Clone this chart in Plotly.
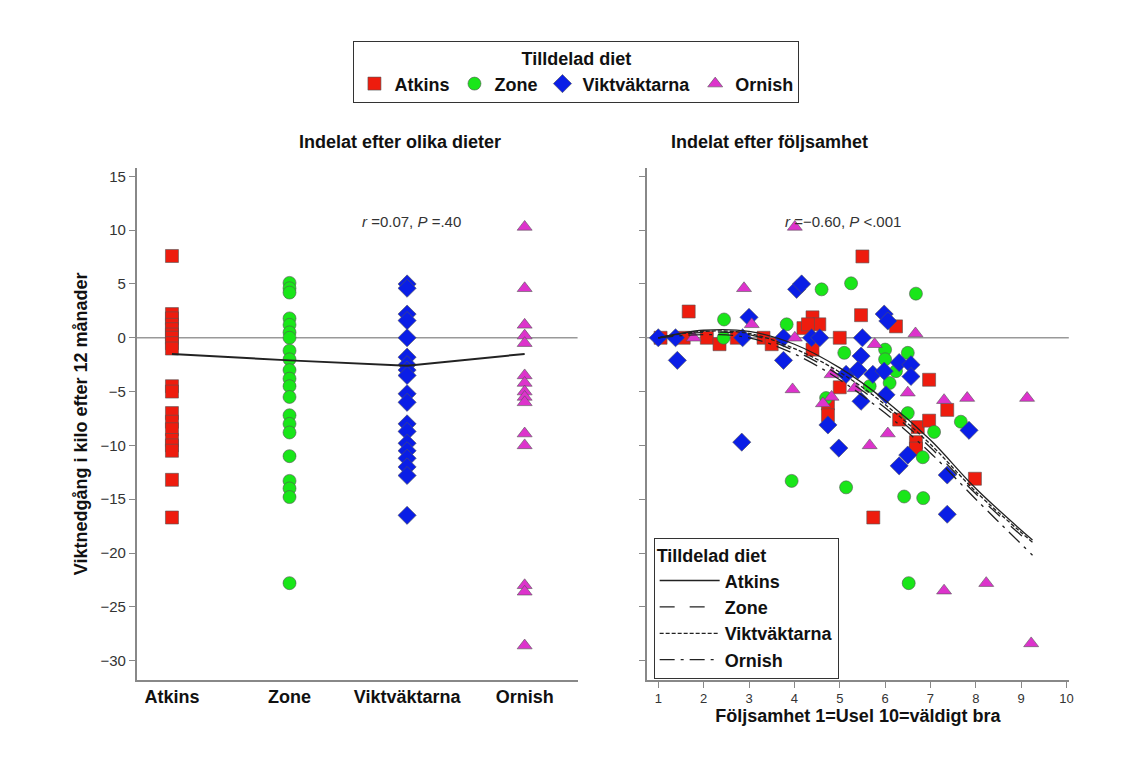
import plotly.graph_objects as go

# --- data ---
diets = ["Atkins", "Zone", "Viktväktarna", "Ornish"]
colors = ["#ee1c0e", "#19e619", "#0a1ee6", "#dd33cc"]
symbols = ["square", "circle", "diamond", "triangle-up"]

# left panel: weight change per diet
atkins_y = [7.6, 2.2, 1.8, 1.2, 0.8, 0.3, 0, -0.5, -1, -4.5, -5, -7, -7.8, -8.5, -9.5, -10, -10.5, -13.2, -16.7]
zone_y = [5.1, 4.6, 4.2, 1.8, 1.2, 0.5, 0, -1.2, -2, -3, -3.8, -4.5, -5.5, -7.2, -8, -8.8, -11, -13.3, -14, -14.8, -22.8]
vikt_y = [5, 4.6, 2.2, 1.6, 0, -1.8, -2.5, -3, -3.5, -5.2, -6, -8, -8.7, -9.8, -10.5, -11.2, -12, -12.8, -16.5]
ornish_y = [10.3, 4.6, 1.2, 0.2, -0.5, -3.5, -4.2, -5, -5.5, -6, -8.9, -10, -23, -23.6, -28.6]
group_means = [-1.5, -2.1, -2.6, -1.5]

# right panel: adherence vs weight change
atkins_adh = [1.67, 1.05, 1.56, 2.07, 2.35, 2.73, 3.32, 3.5, 5.5, 5.47, 6.24, 4.2, 4.4, 4.55, 4.3, 4.4,
              5.0, 5.0, 4.74, 4.74, 6.97, 7.37, 6.31, 6.72, 6.97, 6.68, 6.68, 7.98, 5.74]
atkins_chg = [2.44, 0, 0, 0, -0.6, 0, 0, -0.6, 7.56, 2.1, 1.06, 0.9, 1.9, 1.25, 1.25, -1.1,
              0, -4.6, -6.1, -7.2, -3.9, -6.7, -7.6, -8.3, -7.7, -9.7, -10.3, -13.1, -16.7]
zone_adh = [2.45, 2.44, 3.83, 4.6, 5.25, 6.68, 5.1, 6.0, 6.5, 6.0, 6.24, 6.1, 5.66, 4.7, 6.5, 7.08,
            7.67, 6.83, 3.94, 5.14, 6.42, 6.84, 6.52]
zone_chg = [1.7, 0, 1.25, 4.5, 5.06, 4.1, -1.4, -1.1, -1.4, -2.0, -3.1, -4.2, -4.5, -5.6, -7.0, -8.75,
            -7.8, -11.1, -13.3, -13.9, -14.75, -14.9, -22.8]
vikt_adh = [1.0, 1.38, 1.42, 2.86, 3.0, 3.76, 3.76, 2.84, 4.05, 4.16, 4.38, 4.56, 5.5, 5.98, 6.06, 5.47,
            5.14, 5.4, 5.73, 5.98, 6.31, 6.57, 6.57, 6.02, 5.47, 4.74, 4.98, 6.5, 6.31, 7.37, 7.85, 7.37]
vikt_chg = [0, 0, -2.1, 0, 1.9, 0, -2.1, -9.7, 4.5, 5.0, 0, 0, 0, 2.2, 1.56, -1.7,
            -3.4, -3.0, -3.4, -3.1, -2.3, -2.5, -3.6, -5.3, -5.9, -8.1, -10.25, -10.9, -11.9, -12.75, -8.6, -16.4]
ornish_adh = [4.01, 2.89, 3.06, 1.78, 4.01, 6.67, 5.77, 3.96, 4.82, 4.82, 4.63, 5.33, 6.5, 7.3, 7.81,
              9.13, 6.06, 5.66, 7.3, 8.23, 9.22]
ornish_chg = [10.3, 4.6, 1.25, 0, 0, 0.4, -0.6, -4.8, -3.4, -5.5, -6.1, -4.7, -5.1, -5.8, -5.6,
              -5.6, -8.9, -10.0, -23.5, -22.8, -28.4]

# fitted curves (read at a few adherence values)
fit_x = [1, 2, 3, 4, 5, 6, 7, 8, 9.25]
fit_atkins = [0, 0.7, 0.6, -0.6, -2.8, -5.8, -9.5, -14, -18.8]
fit_zone = [0, 0.5, 0.3, -1.2, -3.5, -6.5, -10.2, -14.5, -19.3]
fit_vikt = [0, 0.6, 0.4, -1.0, -3.2, -6.2, -9.9, -14.3, -19.0]
fit_ornish = [0, 0.3, 0.0, -1.5, -3.9, -7.0, -10.7, -15.0, -20.2]

left_ys = [atkins_y, zone_y, vikt_y, ornish_y]
right_xs = [atkins_adh, zone_adh, vikt_adh, ornish_adh]
right_ys = [atkins_chg, zone_chg, vikt_chg, ornish_chg]
fits = [fit_atkins, fit_zone, fit_vikt, fit_ornish]
dashes = ["solid", "longdash", "4px,2px", "longdashdot"]
sizes = [13, 13, 14, 13]

fig = go.Figure()

for i, d in enumerate(diets):
    marker = dict(color=colors[i], symbol=symbols[i], size=sizes[i],
                  line=dict(color="#555555", width=0.6))
    fig.add_trace(go.Scatter(x=[d] * len(left_ys[i]), y=left_ys[i], mode="markers",
                             marker=marker, name="<b>" + d + "</b>", legend="legend",
                             xaxis="x", yaxis="y"))
    fig.add_trace(go.Scatter(x=right_xs[i], y=right_ys[i], mode="markers",
                             marker=marker, showlegend=False,
                             xaxis="x2", yaxis="y2"))

fig.add_trace(go.Scatter(x=diets, y=group_means, mode="lines",
                         line=dict(color="#222222", width=2),
                         showlegend=False, xaxis="x", yaxis="y"))

for i, d in enumerate(diets):
    fig.add_trace(go.Scatter(x=fit_x, y=fits[i], mode="lines", name="<b>" + d + "</b>",
                             line=dict(color="#222222", width=1.3, dash=dashes[i], shape="spline"),
                             legend="legend2", xaxis="x2", yaxis="y2"))

yr = [-31.8, 15.8]
axis_common = dict(showline=True, linecolor="#888888", linewidth=1.5, showgrid=False,
                   zeroline=False, ticks="outside", tickcolor="#888888", ticklen=6)

fig.update_layout(
    width=1124, height=768,
    paper_bgcolor="white", plot_bgcolor="white",
    margin=dict(l=0, r=0, t=0, b=0),
    font=dict(family="Liberation Sans, Arial, sans-serif", color="#111111", size=14),
    xaxis=dict(domain=[0.115, 0.509], type="category", range=[-0.3, 3.45],
               showline=True, linecolor="#888888", linewidth=1.5, showgrid=False,
               ticks="", tickfont=dict(size=18, color="#111111"),
               tickprefix="<b>", ticksuffix="</b>", anchor="y"),
    yaxis=dict(domain=[0.125, 0.792], range=yr, tickvals=list(range(-30, 16, 5)),
               tickfont=dict(size=15, color="#333333"),
               title=dict(text="<b>Viktnedgång i kilo efter 12 månader</b>",
                          font=dict(size=18), standoff=8),
               anchor="x", **axis_common),
    xaxis2=dict(domain=[0.571, 0.948], range=[0.75, 10.05], tickvals=list(range(1, 11)),
                tickfont=dict(size=13, color="#333333"),
                title=dict(text="<b>Följsamhet 1=Usel 10=väldigt bra</b>",
                           font=dict(size=18), standoff=2),
                anchor="y2", **axis_common),
    yaxis2=dict(domain=[0.125, 0.792], range=yr, tickvals=list(range(-30, 16, 5)),
                showticklabels=False, anchor="x2", **axis_common),
    legend=dict(orientation="h", x=0.508, xanchor="center", y=0.957, yanchor="top",
                bgcolor="white", bordercolor="#333333", borderwidth=1,
                title=dict(text="<b>Tilldelad diet</b>", side="top center", font=dict(size=18)),
                font=dict(size=18), itemwidth=30, entrywidth=0,
                itemclick=False),
    legend2=dict(x=0.577, xanchor="left", y=0.31, yanchor="top",
                 bgcolor="white", bordercolor="#333333", borderwidth=1,
                 title=dict(text="<b>Tilldelad diet</b>", font=dict(size=18)),
                 font=dict(size=18), tracegroupgap=0, itemwidth=60),
    shapes=[
        dict(type="line", xref="x domain", yref="y", x0=0, x1=1, y0=0, y1=0,
             line=dict(color="#999999", width=1.5), layer="below"),
        dict(type="line", xref="x2 domain", yref="y2", x0=0, x1=1, y0=0, y1=0,
             line=dict(color="#999999", width=1.5), layer="below"),
    ],
    annotations=[
        dict(text="<b>Indelat efter olika dieter</b>", x=0.35, y=0.81, xref="paper", yref="paper",
             showarrow=False, font=dict(size=18), yanchor="bottom"),
        dict(text="<b>Indelat efter följsamhet</b>", x=0.77, y=0.81, xref="paper", yref="paper",
             showarrow=False, font=dict(size=18), yanchor="bottom"),
        dict(text="<i>r</i> =0.07, <i>P</i> =.40", x=0.361, y=0.736, xref="paper", yref="paper",
             showarrow=False, font=dict(size=15, color="#333333")),
        dict(text="<i>r</i> =−0.60, <i>P</i> <.001", x=0.8, y=0.736, xref="paper", yref="paper",
             showarrow=False, font=dict(size=15, color="#333333")),
    ],
)

fig.write_html("out.html")
